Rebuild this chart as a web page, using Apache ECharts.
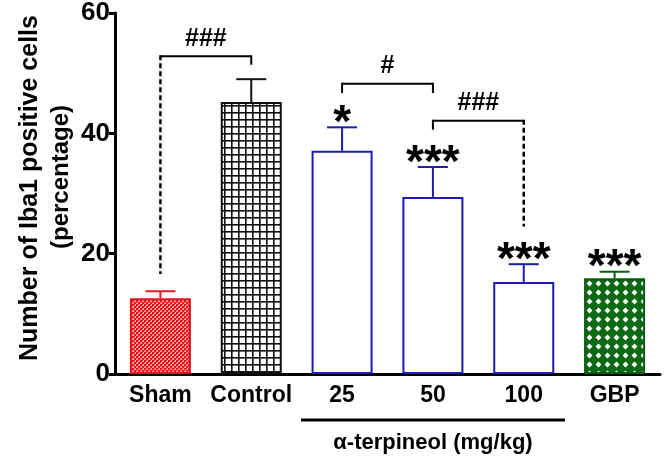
<!DOCTYPE html>
<html>
<head>
<meta charset="utf-8">
<script src="https://cdn.jsdelivr.net/npm/echarts@6/dist/echarts.min.js"></script>
<style>
html,body{margin:0;padding:0;background:#fff;}
#chart{width:666px;height:463px;}
</style>
</head>
<body>
<div id="chart"></div>
<script>
// ---- data ----
const categories = ['Sham', 'Control', '25', '50', '100', 'GBP'];
const means = [12.6, 45.2, 37.1, 29.4, 15.3, 15.9];
const sems = [1.15, 3.8, 3.9, 5.0, 2.95, 1.1];
const stars = ['', '', '*', '***', '***', '***'];
const yTicks = [0, 20, 40, 60];
// brackets: [fromIndex, toIndex, lineValue, leftEndValue, rightEndValue, leftDashed, rightDashed, label]
const brackets = [
  [0, 1, 52.8, 16.6, 51.4, true, false, '###'],
  [2, 3, 48.25, 46.7, 46.7, false, false, '#'],
  [3, 4, 42.1, 40.6, 24.5, false, true, '###']
];
const yTitle1 = 'Number of Iba1 positive cells';
const yTitle2 = '(percentage)';
const groupLabel = 'α-terpineol (mg/kg)';

// ---- patterns ----
function makeTile(w, h, draw) {
  const c = document.createElement('canvas');
  c.width = w; c.height = h;
  draw(c.getContext('2d'));
  return c;
}
const shamTile = makeTile(4, 4, g => {
  g.fillStyle = '#f6a8a8'; g.fillRect(0, 0, 4, 4);
  g.fillStyle = '#e8141c'; g.fillRect(0, 0, 2, 2); g.fillRect(2, 2, 2, 2);
  g.fillStyle = '#ee3a3a'; g.fillRect(2, 0, 1, 1); g.fillRect(0, 2, 1, 1);
});
const ctrlTile = makeTile(7, 7, g => {
  g.fillStyle = '#ffffff'; g.fillRect(0, 0, 7, 7);
  g.fillStyle = '#111111'; g.fillRect(0, 0, 7, 1.6); g.fillRect(0, 0, 1.6, 7);
});
const gbpTile = makeTile(9, 9, g => {
  g.fillStyle = '#0d6a14'; g.fillRect(0, 0, 9, 9);
  g.fillStyle = '#ffffff';
  const dia = (cx, cy, r) => { g.beginPath(); g.moveTo(cx, cy - r); g.lineTo(cx + r, cy); g.lineTo(cx, cy + r); g.lineTo(cx - r, cy); g.closePath(); g.fill(); };
  dia(4.5, 4.5, 2.9);
});
const blue = '#1c1cb0';
const barStyles = [
  { color: { image: shamTile, repeat: 'repeat' }, borderColor: '#e8141c', borderWidth: 2 },
  { color: { image: ctrlTile, repeat: 'repeat' }, borderColor: '#111111', borderWidth: 2 },
  { color: '#ffffff', borderColor: blue, borderWidth: 2 },
  { color: '#ffffff', borderColor: blue, borderWidth: 2 },
  { color: '#ffffff', borderColor: blue, borderWidth: 2 },
  { color: { image: gbpTile, repeat: 'repeat' }, borderColor: '#0d5a12', borderWidth: 2 }
];
const errColors = ['#e8141c', '#111111', blue, blue, blue, '#0d5a12'];

const FONT = 'Liberation Sans, Arial, Helvetica, sans-serif';
const chart = echarts.init(document.getElementById('chart'), null, { renderer: 'canvas' });

const option = {
  animation: false,
  backgroundColor: '#ffffff',
  grid: { left: 115, right: 6, top: 13, bottom: 89, containLabel: false },
  xAxis: {
    type: 'category',
    data: categories,
    axisLine: { lineStyle: { color: '#000', width: 3 } },
    axisTick: { show: false },
    axisLabel: { interval: 0, color: '#000', fontFamily: FONT, fontWeight: 'bold', fontSize: 23, margin: 10 }
  },
  yAxis: {
    type: 'value',
    min: 0, max: 60, interval: 20,
    axisLine: { show: true, lineStyle: { color: '#000', width: 3 } },
    axisTick: { show: true, inside: false, length: 6, lineStyle: { color: '#000', width: 3 } },
    splitLine: { show: false },
    axisLabel: {
      color: '#000', fontFamily: FONT, fontWeight: 'bold', fontSize: 26, margin: 5,
      formatter: v => (yTicks.indexOf(v) >= 0 ? String(v) : '')
    }
  },
  series: [
    {
      type: 'bar',
      barWidth: 61,
      data: means.map((v, i) => ({ value: v, itemStyle: barStyles[i] })),
      z: 2
    },
    {
      type: 'custom',
      z: 3,
      data: means.map((v, i) => [i, v, sems[i]]),
      renderItem: function (params, api) {
        const i = api.value(0), m = api.value(1), s = api.value(2);
        const base = api.coord([i, m]);
        const top = api.coord([i, m + s]);
        const col = errColors[i];
        const hw = 15;
        const children = [
          { type: 'line', shape: { x1: base[0], y1: base[1], x2: top[0], y2: top[1] }, style: { stroke: col, lineWidth: 2 } },
          { type: 'line', shape: { x1: top[0] - hw, y1: top[1], x2: top[0] + hw, y2: top[1] }, style: { stroke: col, lineWidth: 2 } }
        ];
        if (stars[i]) {
          children.push({
            type: 'text',
            style: {
              text: stars[i], x: top[0], y: top[1] - 3,
              textAlign: 'center', textVerticalAlign: 'middle',
              font: 'bold 46px ' + FONT, fill: '#000'
            }
          });
        }
        return { type: 'group', children: children };
      }
    },
    {
      type: 'custom',
      z: 4,
      data: brackets.map((b, k) => [k]),
      renderItem: function (params, api) {
        const b = brackets[params.dataIndex];
        const L = api.coord([b[0], b[2]]);
        const R = api.coord([b[1], b[2]]);
        const LE = api.coord([b[0], b[3]]);
        const RE = api.coord([b[1], b[4]]);
        const st = (dashed) => ({ stroke: '#000', lineWidth: dashed ? 2.5 : 2, lineDash: dashed ? [5, 3] : null });
        return {
          type: 'group',
          children: [
            { type: 'line', shape: { x1: L[0], y1: L[1], x2: R[0], y2: R[1] }, style: st(false) },
            { type: 'line', shape: { x1: L[0], y1: L[1] - 1, x2: LE[0], y2: LE[1] }, style: st(b[5]) },
            { type: 'line', shape: { x1: R[0], y1: R[1] - 1, x2: RE[0], y2: RE[1] }, style: st(b[6]) },
            {
              type: 'text',
              style: {
                text: b[7], x: (L[0] + R[0]) / 2, y: L[1] - 5,
                textAlign: 'center', textVerticalAlign: 'bottom',
                font: 'bold 25px ' + FONT, fill: '#000'
              }
            }
          ]
        };
      }
    }
  ],
  graphic: [
    {
      type: 'text', rotation: Math.PI / 2, x: 30, y: 188,
      style: { text: yTitle1, textAlign: 'center', textVerticalAlign: 'middle', font: 'bold 25px ' + FONT, fill: '#000' }
    },
    {
      type: 'text', rotation: Math.PI / 2, x: 61, y: 177,
      style: { text: yTitle2, textAlign: 'center', textVerticalAlign: 'middle', font: 'bold 24px ' + FONT, fill: '#000' }
    },
    {
      type: 'line', shape: { x1: 301, y1: 420, x2: 565, y2: 420 }, style: { stroke: '#000', lineWidth: 3 }
    },
    {
      type: 'text', x: 433, y: 443,
      style: { text: groupLabel, textAlign: 'center', textVerticalAlign: 'middle', font: 'bold 22px ' + FONT, fill: '#000' }
    }
  ]
};
chart.setOption(option);
</script>
</body>
</html>
